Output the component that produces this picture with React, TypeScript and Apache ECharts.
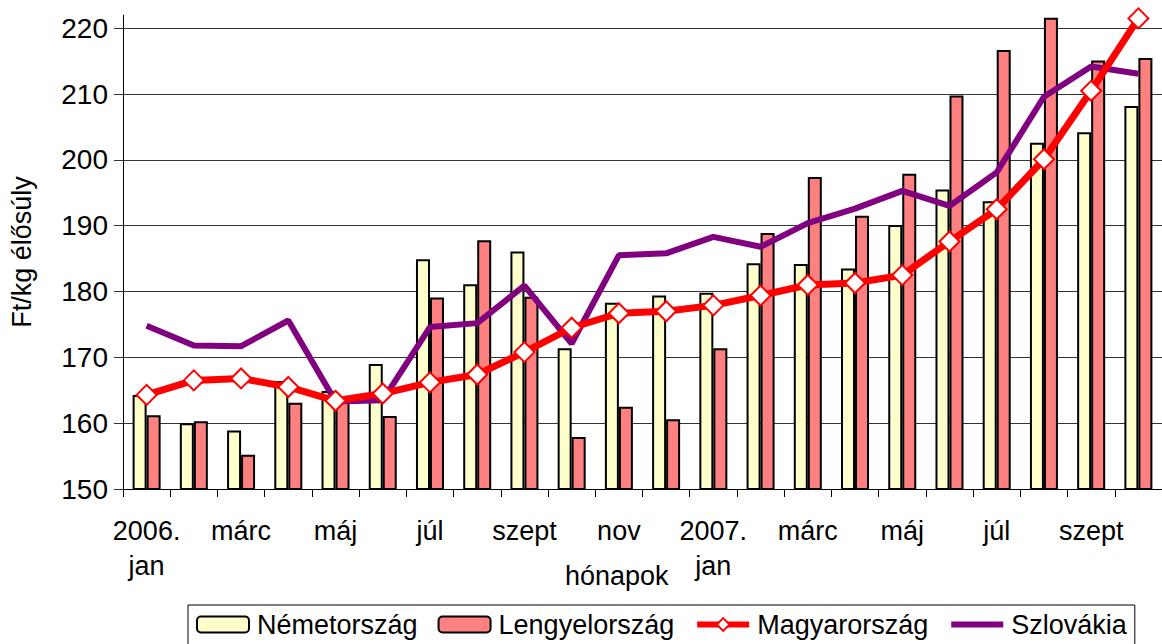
import React, { useEffect, useRef } from "react";
import * as echarts from "echarts";

const categories = [
  "2006.\njan", "febr", "márc", "ápr", "máj", "jún", "júl", "aug", "szept", "okt", "nov", "dec",
  "2007.\njan", "febr", "márc", "ápr", "máj", "jún", "júl", "aug", "szept", "okt",
];
const nemetorszag = [164.3, 160.0, 158.9, 166.4, 164.9, 169.0, 184.9, 181.1, 186.1, 171.4, 178.3, 179.4, 179.8, 184.3, 184.2, 183.5, 190.1, 195.5, 193.7, 202.6, 204.2, 208.2];
const lengyelorszag = [161.2, 160.3, 155.2, 163.1, 163.3, 161.1, 179.1, 187.8, 179.2, 157.9, 162.5, 160.6, 171.4, 188.9, 197.4, 191.5, 197.9, 209.8, 216.7, 221.6, 215.1, 215.5];
const magyarorszag = [164.3, 166.5, 166.8, 165.5, 163.4, 164.5, 166.2, 167.4, 170.8, 174.5, 176.7, 177.0, 177.9, 179.4, 181.0, 181.3, 182.5, 187.6, 192.5, 200.1, 210.5, 221.5];
const szlovakia = [174.8, 171.8, 171.7, 175.6, 163.3, 163.5, 174.6, 175.2, 180.9, 172.1, 185.5, 185.8, 188.3, 186.8, 190.4, 192.6, 195.3, 193.0, 198.1, 209.6, 214.2, 213.1];
const yTicks = [150, 160, 170, 180, 190, 200, 210, 220];

const FONT = "Liberation Sans, Arial, sans-serif";

export default function App() {
  const ref = useRef<HTMLDivElement>(null);
  useEffect(() => {
    if (!ref.current) return;
    const chart = echarts.init(ref.current, undefined, { renderer: "svg" });
    chart.setOption({
      animation: false,
      backgroundColor: "#fff",
      textStyle: { fontFamily: FONT },
      grid: { left: 123, right: -11.5, top: 15.1, bottom: 155 },
      legend: {
        data: [
          { name: "Németország" },
          { name: "Lengyelország" },
          { name: "Magyarország", lineStyle: { width: 6, color: "#FF0000" } },
          { name: "Szlovákia", lineStyle: { width: 6, color: "#800080" }, itemStyle: { opacity: 0 } },
        ],
        left: 188,
        top: 605,
        itemWidth: 52,
        itemHeight: 16,
        itemGap: 20,
        padding: [6, 8, 10, 8],
        borderColor: "#000",
        borderWidth: 1,
        textStyle: { fontSize: 27, color: "#000", fontFamily: FONT, padding: [0, 0, 0, 3] },
      },
      graphic: [
        {
          type: "text",
          left: 565,
          top: 562,
          style: { text: "hónapok", fontSize: 27, fill: "#000", fontFamily: FONT },
        },
      ],
      xAxis: {
        type: "category",
        data: categories,
        boundaryGap: true,
        axisLine: { lineStyle: { color: "#000", width: 1 } },
        axisTick: { show: true, interval: 0, length: 8, lineStyle: { color: "#000" } },
        axisLabel: {
          interval: 1,
          fontSize: 27,
          color: "#000",
          margin: 24,
          lineHeight: 35,
          fontFamily: FONT,
        },
        splitLine: { show: false },
      },
      yAxis: {
        type: "value",
        min: 150,
        max: 222,
        interval: 10,
        name: "Ft/kg élősúly",
        nameLocation: "middle",
        nameGap: 88,
        nameRotate: 90,
        nameTextStyle: { fontSize: 27, color: "#000", fontFamily: FONT },
        axisLine: { show: true, lineStyle: { color: "#000", width: 1 } },
        axisTick: { show: true, length: 9, lineStyle: { color: "#333" }, customValues: yTicks },
        axisLabel: { fontSize: 28, color: "#000", margin: 15, customValues: yTicks, fontFamily: FONT },
        splitLine: { show: true, lineStyle: { color: "#333", width: 1 } },
      },
      series: [
        {
          name: "Németország",
          type: "bar",
          data: nemetorszag,
          barWidth: 14,
          barGap: "0%",
          itemStyle: { color: "#FFFFCC", borderColor: "#000", borderWidth: 2 },
        },
        {
          name: "Lengyelország",
          type: "bar",
          data: lengyelorszag,
          barWidth: 14,
          barGap: "0%",
          itemStyle: { color: "#FF8080", borderColor: "#000", borderWidth: 2 },
        },
        {
          name: "Szlovákia",
          type: "line",
          data: szlovakia,
          symbol: "none",
          clip: false,
          z: 3,
          lineStyle: { color: "#800080", width: 6 },
          itemStyle: { color: "#800080" },
        },
        {
          name: "Magyarország",
          type: "line",
          data: magyarorszag,
          symbol: "diamond",
          symbolSize: 20,
          clip: false,
          z: 4,
          lineStyle: { color: "#FF0000", width: 7 },
          itemStyle: { color: "#fff", borderColor: "#FF0000", borderWidth: 2 },
        },
      ],
    });
    return () => chart.dispose();
  }, []);
  return (
    <div
      ref={ref}
      style={{ position: "fixed", left: 0, top: 0, width: 1162, height: 644, background: "#fff" }}
    />
  );
}
